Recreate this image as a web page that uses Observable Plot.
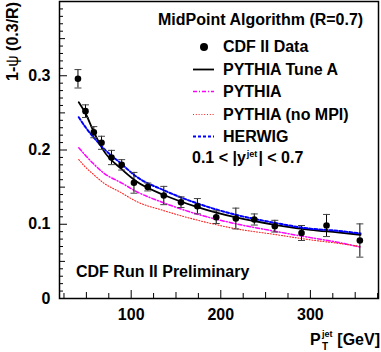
<!DOCTYPE html>
<html><head><meta charset="utf-8">
<script src="https://cdn.jsdelivr.net/npm/d3@7"></script>
<script src="https://cdn.jsdelivr.net/npm/@observablehq/plot@0.6"></script>
<style>body{margin:0;background:#fff} svg{display:block}</style>
</head><body><div id="chart"></div>
<script>
// CDF II data: jet pT (GeV), 1-psi(0.3/R), uncertainty
const ptData  = [40.6, 49.0, 58.3, 66.9, 78.0, 89.4, 103.1, 118.5, 136.4, 155.6, 173.9, 194.9, 216.8, 237.4, 260.3, 290.1, 318.0, 355.2];
const psiData = [0.2959, 0.2523, 0.2240, 0.2097, 0.1899, 0.1800, 0.1558, 0.1502, 0.1387, 0.1297, 0.1243, 0.1095, 0.1077, 0.1064, 0.0974, 0.0882, 0.0983, 0.0781];
const errData = [0.0124, 0.0085, 0.0075, 0.0088, 0.0096, 0.0070, 0.0140, 0.0053, 0.0123, 0.0072, 0.0103, 0.0085, 0.0140, 0.0075, 0.0079, 0.0101, 0.0149, 0.0224];

// Monte Carlo predictions
const ptModel     = [41.5, 49, 58, 69, 89, 106, 136, 174, 217, 260, 300, 330, 356];
const pythiaTuneA = [0.2644, 0.2495, 0.2250, 0.1995, 0.1745, 0.1575, 0.1397, 0.1230, 0.1091, 0.0993, 0.0925, 0.0890, 0.0858];
const pythia      = [0.2030, 0.1926, 0.1814, 0.1693, 0.1558, 0.1440, 0.1290, 0.1135, 0.1006, 0.0906, 0.0820, 0.0758, 0.0691];
const pythiaNoMPI = [0.1872, 0.1768, 0.1670, 0.1558, 0.1424, 0.1306, 0.1185, 0.1055, 0.0939, 0.0863, 0.0790, 0.0745, 0.0700];
const herwig      = [0.2442, 0.2307, 0.2172, 0.2024, 0.1814, 0.1640, 0.1460, 0.1280, 0.1127, 0.1020, 0.0940, 0.0912, 0.0875];

// axis ticks
const xLabelTicks = [100, 200, 300];
const xMidTicks = [50, 150, 250, 350];
const xMinorTicks = [25, 75, 125, 175, 225, 275, 325, 375];
const yLabelTicks = [0, 0.1, 0.2, 0.3];
const yMidTicks = [0.05, 0.15, 0.25, 0.35];
const yMinorTicks = d3.range(1, 40).map(i => i / 100).filter(v => Math.round(v * 100) % 5 !== 0);

const FONT = "'Liberation Sans', Arial, Helvetica, sans-serif";

const points = ptData.map((pt, i) => ({pt, psi: psiData[i], err: errData[i]}));
const models = [
  {name: "PYTHIA Tune A", values: pythiaTuneA, color: "#000000", width: 1.8, dash: null},
  {name: "PYTHIA", values: pythia, color: "#ff00ff", width: 1.5, dash: "4,2,1,2"},
  {name: "PYTHIA (no MPI)", values: pythiaNoMPI, color: "#ff2020", width: 1.1, dash: "1,1.8"},
  {name: "HERWIG", values: herwig, color: "#0000ff", width: 2, dash: "3,2"}
];
const curveRows = m => ptModel.map((pt, i) => ({pt, v: m.values[i]}));

const capSymbol = {draw(ctx, size) { const w = Math.sqrt(size / Math.PI); ctx.moveTo(-w, 0); ctx.lineTo(w, 0); }};

const chart = Plot.plot({
  width: 381, height: 352,
  marginLeft: 59, marginRight: 3, marginTop: 1, marginBottom: 54,
  style: {fontFamily: FONT, fontSize: "16px", fontWeight: "bold", background: "#fff", overflow: "visible"},
  x: {domain: [20, 376]},
  y: {domain: [0, 0.4]},
  marks: [
    Plot.axisX({ticks: xMinorTicks, tickSize: -5, tickFormat: () => "", label: null}),
    Plot.axisX({ticks: xMidTicks, tickSize: -6, tickFormat: () => "", label: null}),
    Plot.axisX({ticks: xLabelTicks, tickSize: -8, tickPadding: 18, tickFormat: d => String(d), fontSize: 16, fontWeight: "bold", label: null}),
    Plot.axisY({ticks: yMinorTicks, tickSize: -4, tickFormat: () => "", label: null}),
    Plot.axisY({ticks: yMidTicks, tickSize: -6, tickFormat: () => "", label: null}),
    Plot.axisY({ticks: yLabelTicks, tickSize: -8, tickPadding: 17, tickFormat: d => d === 0 ? "0" : d.toFixed(1), fontSize: 16, fontWeight: "bold", label: null}),
    ...models.map(m => Plot.line(curveRows(m), {x: "pt", y: "v", stroke: m.color, strokeWidth: m.width, strokeDasharray: m.dash, curve: "monotone-x"})),
    Plot.ruleX(points, {x: "pt", y1: d => d.psi - d.err, y2: d => d.psi + d.err, stroke: "#000", strokeWidth: 1}),
    Plot.dot(points, {x: "pt", y: d => d.psi - d.err, symbol: capSymbol, r: 3.5, stroke: "#444", fill: "none", strokeWidth: 1}),
    Plot.dot(points, {x: "pt", y: d => d.psi + d.err, symbol: capSymbol, r: 3.5, stroke: "#444", fill: "none", strokeWidth: 1}),
    Plot.dot(points, {x: "pt", y: "psi", r: 3.3, fill: "#000", stroke: "none"}),
    Plot.frame({stroke: "#000", strokeWidth: 1.5})
  ]
});
document.getElementById("chart").appendChild(chart);

// annotations & legend
const svg = d3.select(chart);
const g = svg.append("g").attr("font-family", FONT).attr("font-size", 16).attr("font-weight", "bold").attr("fill", "#000");
function addText(x, y, parts, anchor = "start") {
  const t = g.append("text").attr("x", x).attr("y", y).attr("text-anchor", anchor);
  parts.forEach(p => {
    const s = t.append("tspan").text(p.t);
    if (p.size) s.attr("font-size", p.size);
    if (p.dy) s.attr("dy", p.dy);
    if (p.dx) s.attr("dx", p.dx);
    if (p.weight) s.attr("font-weight", p.weight);
  });
  return t;
}
addText(158, 25, [{t: "MidPoint Algorithm (R=0.7)"}]);
g.append("circle").attr("cx", 204).attr("cy", 47).attr("r", 4).attr("fill", "#000");
addText(223, 52, [{t: "CDF II Data"}]);
const legendY = [75, 97, 120, 142];
models.forEach((m, i) => {
  const ly = legendY[i] - 5.5;
  g.append("line").attr("x1", 193).attr("x2", 214).attr("y1", ly).attr("y2", ly)
    .attr("stroke", m.color).attr("stroke-width", m.width).attr("stroke-dasharray", m.dash);
  addText(223, legendY[i], [{t: m.name}]);
});
addText(192, 162.5, [{t: "0.1 < |y"}, {t: "jet", size: 9, dy: -6, dx: 1}, {t: "| < 0.7", size: 16, dy: 6, dx: 1}]);
addText(76, 277, [{t: "CDF Run II Preliminary"}]);

// x axis title
addText(310, 345, [{t: "P"}]);
addText(322, 350, [{t: "T", size: 10}]);
addText(322, 337, [{t: "jet", size: 9}]);
addText(380, 345, [{t: "[GeV]"}], "end");

// y axis title (rotated)
g.append("text").attr("transform", "translate(18,2) rotate(-90)").attr("text-anchor", "end")
  .call(t => { t.append("tspan").text("1-"); t.append("tspan").attr("font-weight", "normal").text("ψ"); t.append("tspan").text(" (0.3/R)"); });
</script>
</body></html>
